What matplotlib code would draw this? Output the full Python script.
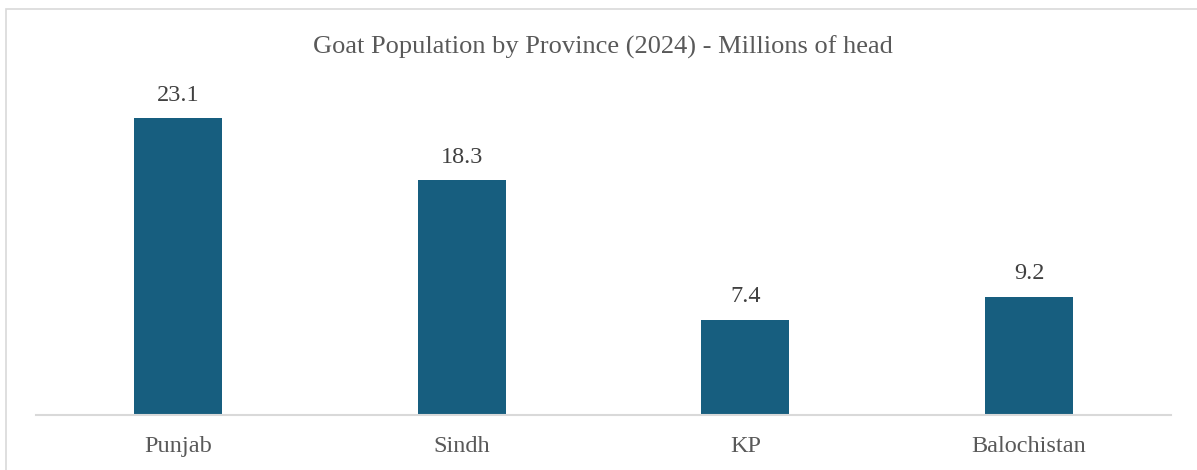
import matplotlib.pyplot as plt
from matplotlib.patches import Rectangle

provincias = ['Punjab', 'Sindh', 'KP', 'Balochistan']
cabras = [23.1, 18.3, 7.4, 9.2]
etiquetas = ['23.1', '18.3', '7.4', '9.2']

plt.rcParams['font.family'] = ['Liberation Serif', 'DejaVu Serif']

W, H = 1197, 470
fig = plt.figure(figsize=(W / 100, H / 100), dpi=100)
fig.patch.set_facecolor('white')

# borde del grafico (solo arriba e izquierda se ven)
fig.patches.append(Rectangle((5.5 / W, -0.1), 1.2, (H - 8.5) / H + 0.1,
                             transform=fig.transFigure, fill=False,
                             edgecolor='#D9D9D9', linewidth=1.2))

ax = fig.add_axes([36 / W, (H - 415) / H, (1171 - 36) / W, (415 - 94) / H])
x = range(len(provincias))
ax.bar(x, cabras, width=0.31, color='#175E7F', zorder=2)
ax.set_xlim(-0.5, 3.5)
ax.set_ylim(0, 25)

for i, v in enumerate(cabras):
    ax.annotate(etiquetas[i], (i, v), xytext=(0, 9), textcoords='offset points',
                ha='center', va='bottom', fontsize=17.5, color='#404040')

ax.set_xticks(list(x))
ax.set_xticklabels(provincias, fontsize=17.5, color='#595959')
ax.tick_params(axis='x', length=0, pad=15)
ax.set_yticks([])
for s in ['top', 'right', 'left']:
    ax.spines[s].set_visible(False)
ax.spines['bottom'].set_color('#D9D9D9')
ax.spines['bottom'].set_linewidth(1.5)

fig.text(603 / W, 1 - 47 / H, 'Goat Population by Province (2024) - Millions of head',
         ha='center', va='center', fontsize=19, color='#595959')

plt.savefig('out.png', dpi=100)
plt.close()
